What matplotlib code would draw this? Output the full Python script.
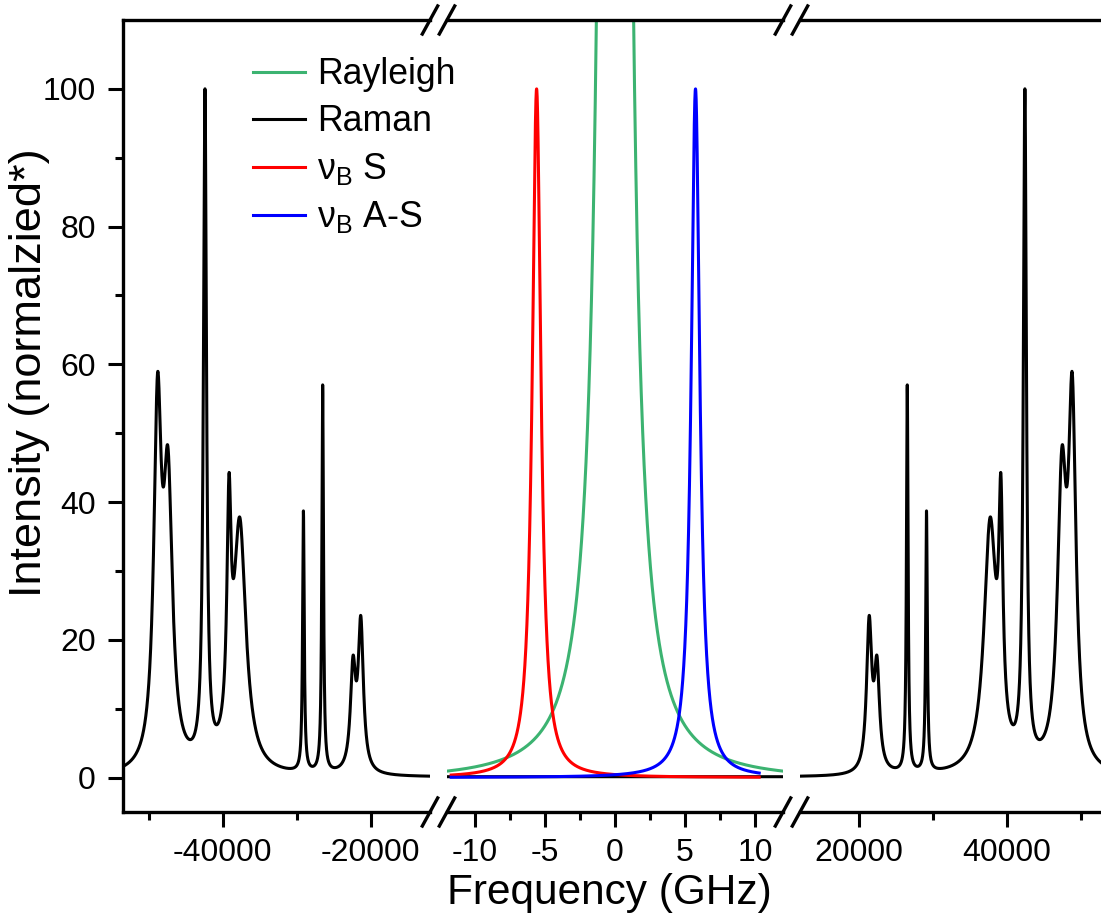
import numpy as np
import matplotlib
matplotlib.use('Agg')
import matplotlib.pyplot as plt
from matplotlib.lines import Line2D

plt.rcParams['font.family'] = ['Liberation Sans', 'DejaVu Sans']
plt.rcParams['mathtext.fontset'] = 'custom'
plt.rcParams['mathtext.rm'] = 'Liberation Sans'
plt.rcParams['axes.unicode_minus'] = False

# Raman lines: |shift| (GHz), peak height (normalized) and half width, mirrored S / A-S
raman_centers = np.array([21350, 22400, 26500, 29100, 37700, 39150, 42400, 47400, 48800])
raman_heights = np.array([23.5, 17.7, 57.0, 38.7, 37.8, 44.2, 100.0, 48.0, 58.8])
raman_widths = np.array([420, 420, 130, 130, 1000, 330, 250, 720, 610])

# Brillouin lines (GHz)
brillouin_s_center = -5.6
brillouin_as_center = 5.75
brillouin_height = 100.0
brillouin_width = 0.37
brillouin_range = (-11.7, 10.3)

# Rayleigh line (GHz), very high peak, clipped at the top of the plot
rayleigh_area = 200.0
rayleigh_width = 0.2
rayleigh_base = -0.45
rayleigh_range = (-11.9, 11.95)

# axis segments of the broken x axis
left_lim = (-53500, -12000)
mid_lim = (-12, 12)
right_lim = (12000, 53500)
y_lim = (-5, 110)

colors = {'Rayleigh': '#3cb371', 'Raman': 'black', 'S': '#ff0000', 'AS': '#0000ff'}


def lorentz(x, x0, h, g):
    return h * g**2 / ((x - x0)**2 + g**2)


# amplitudes so that the summed curve reaches the read heights at the centers
M = raman_widths[None, :]**2 / ((raman_centers[:, None] - raman_centers[None, :])**2 + raman_widths[None, :]**2)
raman_amps = np.linalg.solve(M, raman_heights)


def raman(x):
    y = np.zeros_like(x, dtype=float)
    for c, a, g in zip(raman_centers, raman_amps, raman_widths):
        y += lorentz(x, c, a, g) + lorentz(x, -c, a, g)
    return y


fig = plt.figure(figsize=(11.01, 9.21), dpi=100)
bottom, height = 0.11835, 0.85993
ax1 = fig.add_axes([0.11153, bottom, 0.27902, height])
ax2 = fig.add_axes([0.40599, bottom, 0.30518, height])
ax3 = fig.add_axes([0.72661, bottom, 0.27884, height])

lw = 2.2
x_left = np.linspace(left_lim[0], left_lim[1], 8000)
x_right = np.linspace(right_lim[0], right_lim[1], 8000)
x_mid = np.linspace(mid_lim[0], mid_lim[1], 2000)

ax1.plot(x_left, raman(x_left), color=colors['Raman'], lw=lw)
ax3.plot(x_right, raman(x_right), color=colors['Raman'], lw=lw)
h_raman, = ax2.plot(x_mid, raman(x_mid), color=colors['Raman'], lw=lw)

x_ray = np.linspace(rayleigh_range[0], rayleigh_range[1], 3000)
h_ray, = ax2.plot(x_ray, rayleigh_area / (x_ray**2 + rayleigh_width**2) + rayleigh_base,
                  color=colors['Rayleigh'], lw=lw)
x_b = np.linspace(brillouin_range[0], brillouin_range[1], 3000)
h_s, = ax2.plot(x_b, lorentz(x_b, brillouin_s_center, brillouin_height, brillouin_width),
                color=colors['S'], lw=lw)
h_as, = ax2.plot(x_b, lorentz(x_b, brillouin_as_center, brillouin_height, brillouin_width),
                 color=colors['AS'], lw=lw)

for ax, lim in [(ax1, left_lim), (ax2, mid_lim), (ax3, right_lim)]:
    ax.set_xlim(lim)
    ax.set_ylim(y_lim)
    for s in ax.spines.values():
        s.set_linewidth(2.4)
    ax.spines['right'].set_visible(False)
    ax.tick_params(axis='x', which='major', direction='out', length=10.5, width=2.2,
                   labelsize=23, pad=8, top=False)
    ax.tick_params(axis='x', which='minor', direction='out', length=5.5, width=2.2, top=False)

ax2.spines['left'].set_visible(False)
ax3.spines['left'].set_visible(False)
ax2.set_yticks([])
ax3.set_yticks([])

ax1.set_xticks([-40000, -20000])
ax1.set_xticks([-50000, -30000], minor=True)
ax2.set_xticks([-10, -5, 0, 5, 10])
ax2.set_xticks([-7.5, -2.5, 2.5, 7.5], minor=True)
ax3.set_xticks([20000, 40000])
ax3.set_xticks([30000, 50000], minor=True)

ax1.set_yticks([0, 20, 40, 60, 80, 100])
ax1.set_yticks([10, 30, 50, 70, 90], minor=True)
ax1.tick_params(axis='y', which='major', direction='out', length=10.5, width=2.2, labelsize=23, pad=9)
ax1.tick_params(axis='y', which='minor', direction='out', length=5.5, width=2.2)

# break marks "//" on bottom and top
W, H = 1101.0, 921.0
for xb in [430, 447, 783, 800]:
    for yb in [812, 20]:
        x0, y0 = (xb - 8.5) / W, 1 - (yb + 15.5) / H
        x1, y1 = (xb + 8.5) / W, 1 - (yb - 15.5) / H
        fig.add_artist(Line2D([x0, x1], [y0, y1], transform=fig.transFigure,
                              color='black', lw=2.4, solid_capstyle='butt'))

fig.text(609 / W, 1 - 893 / H, 'Frequency (GHz)', fontsize=30.5, ha='center', va='center')
fig.text(30 / W, 1 - 373 / H, 'Intensity (normalzied*)', fontsize=32.5, ha='center', va='center',
         rotation=90)

fig.legend([h_ray, h_raman, h_s, h_as],
           ['Rayleigh', 'Raman', 'ν$_{\\mathregular{B}}$ S', 'ν$_{\\mathregular{B}}$ A-S'],
           loc='upper left', bbox_to_anchor=(253 / W, 1 - 57 / H), bbox_transform=fig.transFigure,
           frameon=False, fontsize=25.7, handlelength=1.46, handletextpad=0.34,
           borderpad=0, borderaxespad=0, labelspacing=0.34)

fig.savefig('out.png', dpi=100)
